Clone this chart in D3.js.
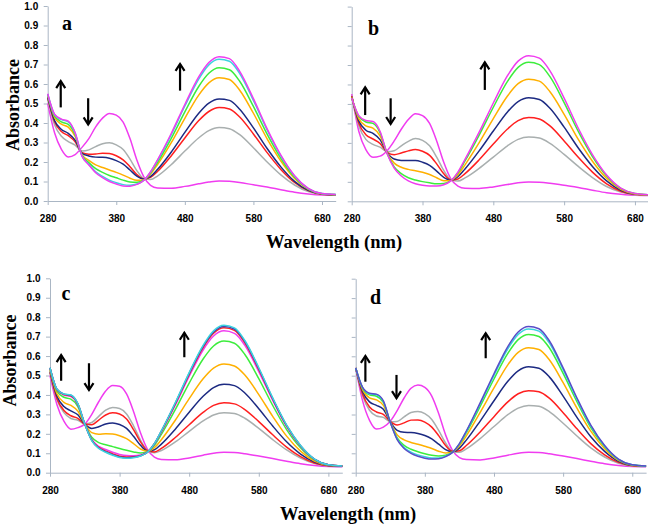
<!DOCTYPE html>
<html>
<head>
<meta charset="utf-8">
<script src="https://cdn.jsdelivr.net/npm/d3@7"></script>
<style>
  html, body { margin: 0; padding: 0; background: #fff; }
  svg { display: block; }
  .tick text { font-family: "Liberation Sans Narrow", "Arial Narrow", "Liberation Sans", Arial, sans-serif; font-weight: bold; font-size: 10px; fill: #000; }
  .serif { font-family: "Liberation Serif", "Times New Roman", Times, "DejaVu Serif", serif; font-weight: bold; fill: #000; }
</style>
</head>
<body>
<script>
// ---------------- DATA ----------------
const wavelengths = [280,290,300,310,320,330,340,350,360,370,380,390,400,410,420,430,440,460,480,500,515,530,545,560,580,600,620,640,660,680,700];
const xTickValues = [280,380,480,580,680];
const yTickValues = [0,0.1,0.2,0.3,0.4,0.5,0.6,0.7,0.8,0.9,1.0];
const panelLabels = ["a","b","c","d"];
const yTitle = "Absorbance";
const xTitle = "Wavelength (nm)";

// panel a
const a_initial = [0.50,0.35,0.265,0.226,0.238,0.275,0.32,0.38,0.425,0.449,0.44,0.405,0.32,0.21,0.125,0.08,0.067,0.066,0.075,0.088,0.097,0.103,0.101,0.095,0.083,0.072,0.058,0.045,0.036,0.031,0.03];
const a_gray   = [0.522,0.391,0.332,0.305,0.286,0.256,0.262,0.279,0.294,0.299,0.288,0.264,0.215,0.156,0.116,0.110,0.128,0.186,0.256,0.323,0.361,0.377,0.371,0.340,0.273,0.200,0.134,0.082,0.048,0.034,0.031];
const a_red    = [0.530,0.406,0.356,0.335,0.304,0.248,0.240,0.241,0.245,0.243,0.232,0.211,0.176,0.136,0.113,0.121,0.151,0.231,0.323,0.411,0.459,0.479,0.472,0.431,0.344,0.248,0.162,0.095,0.053,0.035,0.032];
const a_navy   = [0.533,0.413,0.367,0.347,0.312,0.245,0.231,0.225,0.224,0.219,0.207,0.189,0.159,0.127,0.112,0.126,0.161,0.250,0.352,0.449,0.502,0.523,0.516,0.471,0.375,0.269,0.175,0.101,0.055,0.036,0.032];
const a_orange = [0.542,0.429,0.394,0.379,0.331,0.238,0.208,0.185,0.172,0.159,0.147,0.133,0.117,0.106,0.108,0.138,0.186,0.298,0.424,0.542,0.606,0.632,0.623,0.568,0.450,0.319,0.205,0.116,0.060,0.037,0.032];
const a_green  = [0.546,0.436,0.406,0.393,0.340,0.234,0.197,0.166,0.147,0.131,0.119,0.107,0.098,0.096,0.107,0.144,0.197,0.320,0.457,0.586,0.655,0.683,0.673,0.614,0.485,0.343,0.219,0.122,0.062,0.037,0.033];
const a_cyan   = [0.549,0.443,0.417,0.406,0.348,0.231,0.188,0.150,0.126,0.107,0.094,0.084,0.081,0.087,0.105,0.149,0.207,0.339,0.487,0.624,0.698,0.727,0.717,0.654,0.516,0.364,0.231,0.128,0.064,0.038,0.033];
const a_final  = [0.55,0.445,0.42,0.41,0.35,0.23,0.185,0.145,0.12,0.10,0.087,0.077,0.076,0.085,0.105,0.15,0.21,0.345,0.495,0.635,0.71,0.74,0.73,0.665,0.525,0.37,0.235,0.13,0.065,0.038,0.033];

// panel b
const b_initial = [0.55,0.36,0.265,0.226,0.232,0.26,0.31,0.37,0.42,0.45,0.44,0.40,0.31,0.20,0.115,0.078,0.067,0.066,0.074,0.086,0.095,0.099,0.098,0.093,0.082,0.071,0.057,0.044,0.036,0.031,0.03];
const b_gray   = [0.543,0.388,0.318,0.292,0.278,0.255,0.260,0.285,0.308,0.322,0.313,0.285,0.227,0.159,0.111,0.104,0.120,0.169,0.227,0.285,0.318,0.330,0.325,0.298,0.241,0.179,0.122,0.076,0.047,0.034,0.031];
const b_red    = [0.540,0.401,0.342,0.320,0.297,0.252,0.239,0.248,0.259,0.266,0.257,0.236,0.192,0.141,0.110,0.115,0.142,0.213,0.294,0.371,0.414,0.430,0.423,0.387,0.310,0.226,0.150,0.090,0.052,0.036,0.032];
const b_navy   = [0.537,0.413,0.365,0.349,0.317,0.250,0.217,0.210,0.210,0.210,0.201,0.185,0.155,0.123,0.108,0.126,0.166,0.259,0.361,0.459,0.512,0.532,0.523,0.478,0.381,0.274,0.179,0.105,0.057,0.037,0.033];
const b_orange = [0.534,0.425,0.387,0.376,0.336,0.248,0.196,0.175,0.164,0.157,0.149,0.138,0.121,0.106,0.107,0.137,0.187,0.301,0.425,0.541,0.604,0.627,0.617,0.563,0.447,0.318,0.206,0.118,0.062,0.038,0.033];
const b_green  = [0.531,0.436,0.407,0.400,0.353,0.246,0.177,0.142,0.121,0.109,0.101,0.095,0.090,0.091,0.106,0.146,0.207,0.340,0.483,0.616,0.688,0.714,0.702,0.640,0.507,0.359,0.230,0.130,0.066,0.040,0.034];
const b_final  = [0.53,0.44,0.415,0.41,0.36,0.245,0.17,0.13,0.105,0.09,0.082,0.078,0.078,0.085,0.105,0.15,0.215,0.355,0.505,0.645,0.72,0.748,0.735,0.67,0.53,0.375,0.24,0.135,0.068,0.04,0.034];

// panel c
const c_initial = [0.50,0.35,0.265,0.224,0.232,0.25,0.30,0.365,0.42,0.448,0.445,0.405,0.315,0.205,0.12,0.08,0.068,0.066,0.076,0.09,0.1,0.105,0.104,0.098,0.086,0.073,0.059,0.046,0.037,0.032,0.031];
const c_gray    = [0.512,0.375,0.309,0.279,0.270,0.250,0.258,0.290,0.322,0.336,0.330,0.302,0.241,0.168,0.115,0.102,0.114,0.158,0.213,0.266,0.297,0.309,0.304,0.280,0.228,0.170,0.117,0.075,0.047,0.035,0.032];
const c_red     = [0.516,0.381,0.320,0.293,0.280,0.250,0.247,0.271,0.297,0.308,0.302,0.276,0.222,0.159,0.114,0.107,0.125,0.181,0.247,0.310,0.346,0.360,0.354,0.325,0.263,0.195,0.132,0.083,0.050,0.036,0.033];
const c_navy    = [0.521,0.393,0.340,0.318,0.298,0.250,0.228,0.236,0.251,0.256,0.248,0.228,0.187,0.141,0.112,0.118,0.147,0.224,0.311,0.393,0.438,0.455,0.448,0.410,0.329,0.240,0.159,0.096,0.055,0.037,0.033];
const c_orange  = [0.528,0.406,0.362,0.346,0.317,0.250,0.206,0.198,0.201,0.199,0.190,0.175,0.150,0.122,0.110,0.129,0.170,0.270,0.381,0.483,0.538,0.559,0.549,0.502,0.402,0.290,0.188,0.111,0.060,0.038,0.034];
const c_green   = [0.535,0.420,0.388,0.378,0.340,0.250,0.182,0.155,0.144,0.134,0.124,0.115,0.107,0.101,0.107,0.141,0.197,0.324,0.461,0.585,0.652,0.677,0.666,0.608,0.484,0.346,0.222,0.128,0.066,0.040,0.035];
const c_magenta = [0.538,0.427,0.399,0.392,0.350,0.250,0.171,0.135,0.119,0.105,0.094,0.088,0.087,0.091,0.106,0.147,0.209,0.347,0.496,0.631,0.703,0.730,0.717,0.655,0.520,0.372,0.237,0.136,0.069,0.041,0.035];
const c_red2    = [0.539,0.428,0.402,0.396,0.353,0.250,0.168,0.130,0.111,0.097,0.085,0.081,0.082,0.088,0.105,0.149,0.212,0.354,0.506,0.644,0.717,0.745,0.732,0.668,0.531,0.379,0.241,0.138,0.069,0.041,0.035];
const c_navy2   = [0.540,0.429,0.404,0.398,0.354,0.250,0.166,0.127,0.108,0.093,0.081,0.077,0.079,0.087,0.105,0.149,0.214,0.357,0.511,0.650,0.724,0.752,0.739,0.675,0.536,0.382,0.243,0.139,0.070,0.041,0.035];
const c_final   = [0.54,0.43,0.405,0.40,0.355,0.25,0.165,0.125,0.105,0.09,0.078,0.074,0.077,0.086,0.105,0.15,0.215,0.36,0.515,0.655,0.73,0.758,0.745,0.68,0.54,0.385,0.245,0.14,0.07,0.041,0.035];

// panel d
const d_initial = [0.54,0.37,0.27,0.225,0.235,0.265,0.32,0.385,0.435,0.452,0.44,0.395,0.305,0.195,0.115,0.078,0.068,0.066,0.076,0.09,0.1,0.105,0.104,0.098,0.086,0.073,0.059,0.046,0.037,0.032,0.031];
const d_gray   = [0.540,0.396,0.322,0.292,0.285,0.263,0.264,0.288,0.310,0.315,0.304,0.274,0.218,0.153,0.111,0.105,0.123,0.176,0.238,0.299,0.333,0.347,0.342,0.315,0.255,0.189,0.128,0.081,0.049,0.035,0.032];
const d_red    = [0.540,0.404,0.339,0.313,0.301,0.263,0.246,0.257,0.271,0.272,0.261,0.235,0.191,0.140,0.110,0.113,0.140,0.210,0.289,0.365,0.407,0.423,0.417,0.384,0.309,0.226,0.150,0.092,0.053,0.036,0.033];
const d_navy   = [0.540,0.418,0.365,0.347,0.327,0.262,0.218,0.208,0.207,0.202,0.192,0.174,0.147,0.119,0.108,0.127,0.168,0.266,0.371,0.471,0.525,0.546,0.538,0.494,0.395,0.285,0.185,0.110,0.059,0.038,0.034];
const d_orange = [0.540,0.428,0.386,0.375,0.347,0.261,0.195,0.169,0.156,0.147,0.136,0.125,0.111,0.102,0.107,0.138,0.190,0.311,0.437,0.556,0.620,0.644,0.635,0.582,0.464,0.333,0.214,0.124,0.064,0.039,0.034];
const d_green  = [0.540,0.436,0.401,0.394,0.362,0.260,0.179,0.141,0.121,0.108,0.098,0.090,0.086,0.090,0.106,0.146,0.206,0.342,0.483,0.615,0.686,0.713,0.702,0.644,0.512,0.366,0.233,0.134,0.068,0.040,0.035];
const d_cyan   = [0.540,0.439,0.407,0.402,0.367,0.260,0.173,0.130,0.106,0.092,0.082,0.076,0.076,0.085,0.105,0.149,0.212,0.354,0.502,0.639,0.713,0.741,0.730,0.669,0.531,0.379,0.241,0.138,0.069,0.041,0.035];
const d_final  = [0.54,0.44,0.41,0.405,0.37,0.26,0.17,0.125,0.10,0.085,0.075,0.07,0.072,0.083,0.105,0.15,0.215,0.36,0.51,0.65,0.725,0.753,0.742,0.68,0.54,0.385,0.245,0.14,0.07,0.041,0.035];

// arrows: [wavelength, from absorbance, to absorbance]
const arrows_a = [[299,0.48,0.615],[339,0.527,0.393],[473,0.566,0.703]];
const arrows_b = [[299,0.443,0.585],[335,0.529,0.397],[468,0.572,0.714]];
const arrows_c = [[296,0.473,0.605],[336,0.563,0.425],[473,0.594,0.72]];
const arrows_d = [[294,0.469,0.602],[339,0.504,0.384],[468,0.59,0.719]];

// ---------------- STYLE ----------------
const COL = {
  magenta: "#f03cf0", gray: "#a9afaf", red: "#ff1f1f", navy: "#1c2a82",
  orange: "#ffb000", green: "#3ced3c", cyan: "#3cd4de", purple: "#5a4cc8", blue2: "#3a48b8"
};

const panels = [
  { label: "a", x0: 47.7, x1: 335.7, yb: 201, yt: 6, showY: true, letter: [62, 30], yTitlePos: [18.5, 105],
    series: [[a_initial,COL.magenta],[a_gray,COL.gray],[a_red,COL.red],[a_navy,COL.navy],[a_orange,COL.orange],[a_green,COL.green],[a_cyan,COL.cyan],[a_final,COL.magenta]],
    arrows: arrows_a },
  { label: "b", x0: 351.7, x1: 649.1, yb: 201.3, yt: 6.6, showY: false, letter: [368, 35],
    series: [[b_initial,COL.magenta],[b_gray,COL.gray],[b_red,COL.red],[b_navy,COL.navy],[b_orange,COL.orange],[b_green,COL.green],[b_final,COL.magenta]],
    arrows: arrows_b },
  { label: "c", x0: 50, x1: 342.3, yb: 472.7, yt: 278.3, showY: true, letter: [61.5, 300], yTitlePos: [15.5, 360.5],
    series: [[c_initial,COL.magenta],[c_gray,COL.gray],[c_red,COL.red],[c_navy,COL.navy],[c_orange,COL.orange],[c_green,COL.green],[c_magenta,COL.magenta],[c_red2,COL.red],[c_navy2,COL.blue2],[c_final,COL.cyan]],
    arrows: arrows_c },
  { label: "d", x0: 355.7, x1: 646.1, yb: 472.7, yt: 278.7, showY: false, letter: [370, 304],
    series: [[d_initial,COL.magenta],[d_gray,COL.gray],[d_red,COL.red],[d_navy,COL.navy],[d_orange,COL.orange],[d_green,COL.green],[d_cyan,COL.cyan],[d_final,COL.purple]],
    arrows: arrows_d }
];

const W = 648, H = 526;
const AXIS = "#aab6c4";

const svg = d3.select("body").append("svg").attr("width", W).attr("height", H)
  .style("background", "#fff");

panels.forEach(p => {
  const x = d3.scaleLinear().domain([280, 700]).range([p.x0, p.x1]);
  const y = d3.scaleLinear().domain([0, 1]).range([p.yb, p.yt]);
  const g = svg.append("g");

  // y axis
  const ya = d3.axisLeft(y).tickValues(yTickValues).tickSize(4).tickSizeOuter(0).tickPadding(5.5)
    .tickFormat(p.showY ? d3.format(".1f") : () => "");
  const yg = g.append("g").attr("transform", `translate(${p.x0},0)`).call(ya);
  yg.selectAll("path, line").attr("stroke", AXIS).attr("stroke-width", 1);

  // x axis
  const xa = d3.axisBottom(x).tickValues(xTickValues).tickSize(4).tickSizeOuter(0).tickPadding(10)
    .tickFormat(d3.format("d"));
  const xg = g.append("g").attr("transform", `translate(0,${p.yb})`).call(xa);
  xg.selectAll("path, line").attr("stroke", AXIS).attr("stroke-width", 1);

  // curves
  const line = d3.line().x((d, i) => x(wavelengths[i])).y(d => y(d)).curve(d3.curveMonotoneX);
  p.series.forEach(([vals, col]) => {
    g.append("path").attr("d", line(vals)).attr("fill", "none")
      .attr("stroke", col).attr("stroke-width", 1.5).attr("stroke-linejoin", "round");
  });

  // arrows
  p.arrows.forEach(([wl, from, to]) => {
    const ax = x(wl), y1 = y(from), y2 = y(to);
    const dir = y2 < y1 ? 1 : -1;
    g.append("line").attr("x1", ax).attr("x2", ax).attr("y1", y1).attr("y2", y2)
      .attr("stroke", "#000").attr("stroke-width", 2.2);
    g.append("polyline")
      .attr("points", `${ax - 4.5},${y2 + dir * 7} ${ax},${y2} ${ax + 4.5},${y2 + dir * 7}`)
      .attr("fill", "none").attr("stroke", "#000").attr("stroke-width", 2.2);
  });

  // panel letter
  g.append("text").attr("class", "serif").attr("x", p.letter[0]).attr("y", p.letter[1])
    .style("font-size", "20px").text(p.label);

  // y title
  if (p.yTitlePos) {
    g.append("text").attr("class", "serif")
      .attr("transform", `translate(${p.yTitlePos[0]},${p.yTitlePos[1]}) rotate(-90)`)
      .attr("text-anchor", "middle")
      .style("font-size", "18px").text(yTitle);
  }
});

// x titles
[[334, 248], [348, 519.5]].forEach(([cx, by]) => {
  svg.append("text").attr("class", "serif").attr("x", cx).attr("y", by).attr("text-anchor", "middle")
    .style("font-size", "18.5px").text(xTitle);
});
</script>
</body>
</html>
